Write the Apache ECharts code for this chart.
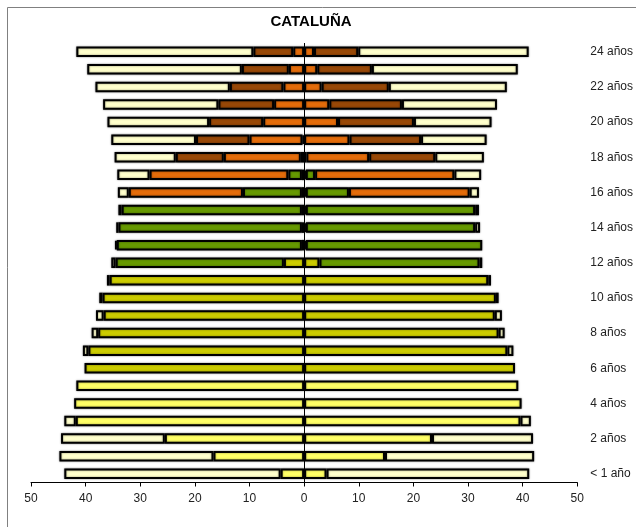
<!DOCTYPE html>
<html>
<head>
<meta charset="utf-8">
<script src="https://cdn.jsdelivr.net/npm/echarts@6/dist/echarts.min.js"></script>
<style>
  html, body { margin: 0; padding: 0; background: #fff; }
  #chart { width: 636px; height: 527px; }
</style>
</head>
<body>
<div id="chart"></div>
<script>
// Age categories (bottom to top)
var ages = ['< 1 año', '1 año', '2 años', '3 años', '4 años', '5 años', '6 años', '7 años', '8 años', '9 años',
  '10 años', '11 años', '12 años', '13 años', '14 años', '15 años', '16 años', '17 años', '18 años', '19 años',
  '20 años', '21 años', '22 años', '23 años', '24 años'];

// Left side (values shown to the left of 0), index 0 = "< 1 año"
var yellowL = [4.3, 16.6, 25.5, 41.8, 42.1, 41.7, 0, 0, 0, 0, 0, 0, 0, 0, 0, 0, 0, 0, 0, 0, 0, 0, 0, 0, 0];
var oliveL  = [0, 0, 0, 0, 0, 0, 40.2, 39.5, 37.7, 36.7, 36.9, 35.6, 3.7, 0.4, 0.4, 0.4, 0.4, 0.4, 0, 0, 0, 0, 0, 0, 0];
var greenL  = [0, 0, 0, 0, 0, 0, 0, 0, 0, 0, 0, 0, 30.8, 33.9, 33.6, 33.0, 10.8, 2.5, 0.6, 0.3, 0, 0, 0, 0, 0];
var orangeL = [0, 0, 0, 0, 0, 0, 0, 0, 0, 0, 0, 0, 0, 0, 0, 0, 20.9, 25.4, 14.1, 9.7, 7.5, 5.5, 3.8, 2.8, 2.0];
var brownL  = [0, 0, 0, 0, 0, 0, 0, 0, 0, 0, 0, 0, 0, 0, 0, 0, 0, 0, 8.8, 9.8, 9.9, 10.2, 9.8, 8.6, 7.3];
var creamL  = [39.6, 28.2, 19.0, 2.1, 0, 0, 0, 1.0, 1.2, 1.4, 0.6, 0.5, 0.8, 0.3, 0.4, 0.6, 2.0, 5.9, 11.2, 15.5, 18.6, 21.1, 24.6, 28.3, 32.4];

// Right side
var yellowR = [4.1, 14.8, 23.4, 39.6, 39.8, 39.2, 0, 0, 0, 0, 0, 0, 0, 0, 0, 0, 0, 0, 0, 0, 0, 0, 0, 0, 0];
var oliveR  = [0, 0, 0, 0, 0, 0, 38.6, 37.2, 35.6, 34.9, 35.1, 33.7, 2.8, 0.3, 0.3, 0.3, 0.3, 0.3, 0, 0, 0, 0, 0, 0, 0];
var greenR  = [0, 0, 0, 0, 0, 0, 0, 0, 0, 0, 0, 0, 29.3, 32.3, 31.0, 31.0, 7.9, 1.7, 0.4, 0, 0, 0, 0, 0, 0];
var orangeR = [0, 0, 0, 0, 0, 0, 0, 0, 0, 0, 0, 0, 0, 0, 0, 0, 22.1, 25.5, 11.5, 8.3, 6.2, 4.6, 3.2, 2.4, 1.8];
var brownR  = [0, 0, 0, 0, 0, 0, 0, 0, 0, 0, 0, 0, 0, 0, 0, 0, 0, 0, 12.1, 13.1, 13.9, 13.3, 12.3, 10.0, 8.1];
var creamR  = [37.1, 27.3, 18.5, 1.9, 0, 0, 0, 1.1, 1.1, 1.3, 0.5, 0.5, 0.5, 0, 0.9, 0.7, 1.7, 4.9, 8.9, 12.0, 14.2, 17.4, 21.6, 26.7, 31.2];

var xTicks = [-50, 50, 10];
var title = 'CATALUÑA';

var colors = {
  yellow: '#FFFF66', olive: '#CCCC00', green: '#669900',
  orange: '#E46C0A', brown: '#984807', cream: '#FFFFCC'
};

function mk(name, arr, side, color) {
  return {
    name: name + side,
    type: 'bar',
    stack: side,
    barWidth: 10.5,
    barGap: '-100%',
    silent: true,
    data: arr.map(function (v) { return v ? (side === 'L' ? -v : v) : null; }),
    itemStyle: {
      color: color, borderColor: '#000', borderWidth: 2,
      shadowBlur: 2, shadowColor: 'rgba(0,0,0,0.45)'
    }
  };
}

var series = [
  mk('yellow', yellowL, 'L', colors.yellow),
  mk('olive', oliveL, 'L', colors.olive),
  mk('green', greenL, 'L', colors.green),
  mk('orange', orangeL, 'L', colors.orange),
  mk('brown', brownL, 'L', colors.brown),
  mk('cream', creamL, 'L', colors.cream),
  mk('yellow', yellowR, 'R', colors.yellow),
  mk('olive', oliveR, 'R', colors.olive),
  mk('green', greenR, 'R', colors.green),
  mk('orange', orangeR, 'R', colors.orange),
  mk('brown', brownR, 'R', colors.brown),
  mk('cream', creamR, 'R', colors.cream)
];
series[series.length - 1].markLine = {
  silent: true, symbol: 'none', animation: false,
  label: { show: false },
  lineStyle: { color: '#000', width: 1, type: 'solid' },
  data: [{ xAxis: 0 }]
};

var chart = echarts.init(document.getElementById('chart'), null, { renderer: 'canvas' });
chart.setOption({
  animation: false,
  backgroundColor: '#fff',
  grid: { left: 31, right: 57, top: 43, bottom: 44.5, containLabel: false },
  xAxis: {
    type: 'value', min: xTicks[0], max: xTicks[1], interval: xTicks[2],
    splitLine: { show: false },
    axisLine: { show: true, lineStyle: { color: '#000', width: 1 } },
    axisTick: { show: true, length: 4, lineStyle: { color: '#000' } },
    axisLabel: {
      color: '#222', fontSize: 12, fontFamily: 'Liberation Sans, Arial, sans-serif', margin: 10,
      formatter: function (v) { return String(Math.abs(v)); }
    }
  },
  yAxis: {
    type: 'category', data: ages, position: 'right',
    axisLine: { show: false }, axisTick: { show: false },
    splitLine: { show: false },
    axisLabel: {
      interval: 1, margin: 13, color: '#222', fontSize: 12,
      fontFamily: 'Liberation Sans, Arial, sans-serif'
    }
  },
  graphic: [
    {
      type: 'rect', silent: true, z: -1,
      shape: { x: 7.5, y: 7.5, width: 700, height: 700 },
      style: { fill: null, stroke: '#808080', lineWidth: 1 }
    },
    {
      type: 'text', silent: true,
      style: {
        text: title, x: 311, y: 22, textAlign: 'center', textVerticalAlign: 'middle',
        font: 'bold 15px "Liberation Sans", Arial, sans-serif', fill: '#000'
      }
    }
  ],
  series: series
});
</script>
</body>
</html>
